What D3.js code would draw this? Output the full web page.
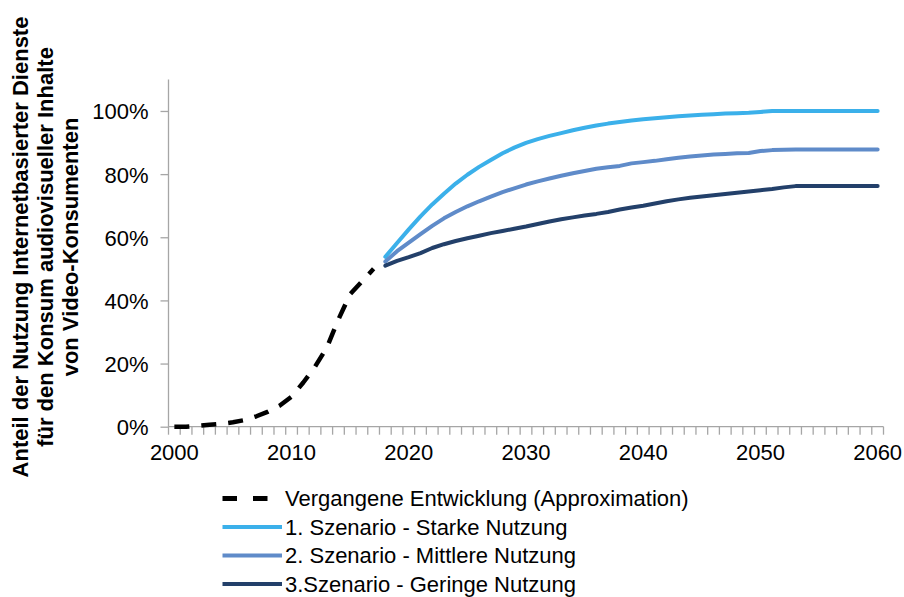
<!DOCTYPE html>
<html>
<head>
<meta charset="utf-8">
<script src="https://cdn.jsdelivr.net/npm/d3@7"></script>
<style>
  html, body { margin: 0; padding: 0; background: #ffffff; }
  svg { display: block; font-family: "Liberation Sans", Arial, sans-serif; }
</style>
</head>
<body>
<svg id="chart" width="904" height="597"></svg>
<script>
// ---- data ----
const years = d3.range(2000, 2061);            // category axis 2000..2060
const xTickLabels = [2000, 2010, 2020, 2030, 2040, 2050, 2060];
const yTickValues = [0, 0.2, 0.4, 0.6, 0.8, 1.0];

const pastYears = d3.range(2000, 2018);
const pastValues = [0.000, 0.000, 0.003, 0.006, 0.009, 0.014, 0.021, 0.033, 0.048,
                    0.067, 0.095, 0.140, 0.190, 0.250, 0.340, 0.420, 0.460, 0.500];

const scenYears = d3.range(2018, 2061);
const strongValues = [0.538, 0.582, 0.625, 0.666, 0.704, 0.738, 0.770, 0.798, 0.823, 0.845,
                      0.866, 0.884, 0.899, 0.911, 0.921, 0.930, 0.939, 0.947, 0.954, 0.960,
                      0.965, 0.970, 0.974, 0.977, 0.980, 0.983, 0.986, 0.988, 0.990, 0.992,
                      0.993, 0.994, 0.997, 1.000, 1.000, 1.000, 1.000, 1.000, 1.000, 1.000,
                      1.000, 1.000, 1.000];
const mediumValues = [0.523, 0.556, 0.583, 0.610, 0.636, 0.660, 0.680, 0.698, 0.714, 0.729,
                      0.743, 0.755, 0.767, 0.777, 0.786, 0.795, 0.803, 0.810, 0.817, 0.822,
                      0.826, 0.834, 0.838, 0.842, 0.847, 0.852, 0.856, 0.859, 0.862, 0.864,
                      0.866, 0.867, 0.873, 0.876, 0.877, 0.878, 0.878, 0.878, 0.878, 0.878,
                      0.878, 0.878, 0.878];
const lowValues = [0.510, 0.525, 0.537, 0.550, 0.566, 0.578, 0.588, 0.597, 0.605, 0.613,
                   0.620, 0.627, 0.634, 0.642, 0.650, 0.657, 0.663, 0.669, 0.674, 0.680,
                   0.688, 0.694, 0.700, 0.707, 0.714, 0.720, 0.725, 0.729, 0.733, 0.737,
                   0.741, 0.745, 0.749, 0.753, 0.758, 0.762, 0.762, 0.762, 0.762, 0.762,
                   0.762, 0.762, 0.762];

const seriesNames = ["Vergangene Entwicklung (Approximation)",
                     "1. Szenario - Starke Nutzung",
                     "2. Szenario - Mittlere Nutzung",
                     "3.Szenario - Geringe Nutzung"];
const seriesColors = ["#000000", "#3BB0EA", "#5F8BC9", "#23406A"];
const titleLines = ["Anteil der Nutzung Internetbasierter Dienste",
                    "für den Konsum audiovisueller Inhalte",
                    "von Video-Konsumenten"];

// ---- layout ----
const svg = d3.select("#chart");
const plot = { left: 168.5, right: 883.5, top: 79.4, bottom: 426.7 };

const x = d3.scaleBand().domain(years).range([plot.left, plot.right]).paddingInner(0).paddingOuter(0);
const xc = yr => x(yr) + x.bandwidth() / 2;
const y = d3.scaleLinear().domain([0, 1.1]).range([plot.bottom, plot.top]);

const axisColor = "#A6A6A6";
const fontSize = 22;

// y axis
const yAxis = d3.axisLeft(y).tickValues(yTickValues).tickFormat(d3.format(".0%")).tickSize(8).tickPadding(12);
const gy = svg.append("g").attr("transform", `translate(${plot.left},0)`).call(yAxis);
gy.select(".domain").remove();
gy.append("line").attr("x1", 0).attr("x2", 0).attr("y1", plot.top).attr("y2", plot.bottom)
  .attr("stroke", axisColor).attr("stroke-width", 1.3);
gy.selectAll(".tick line").attr("stroke", axisColor).attr("stroke-width", 1.3);
gy.selectAll(".tick text").attr("fill", "#000").attr("font-size", fontSize)
  .attr("font-family", "Liberation Sans, Arial, sans-serif").attr("dy", "0.36em");

// x axis: category ticks between bands
const gx = svg.append("g").attr("transform", `translate(0,${plot.bottom})`);
gx.append("line").attr("x1", plot.left).attr("x2", plot.right).attr("y1", 0).attr("y2", 0)
  .attr("stroke", axisColor).attr("stroke-width", 1.3);
const boundaries = years.map(yr => x(yr)).concat([plot.right]);
gx.selectAll("line.tk").data(boundaries).join("line").attr("class", "tk")
  .attr("x1", d => d).attr("x2", d => d).attr("y1", 0).attr("y2", 8)
  .attr("stroke", axisColor).attr("stroke-width", 1.3);
gx.selectAll("text").data(xTickLabels).join("text")
  .attr("x", d => xc(d)).attr("y", 33).attr("text-anchor", "middle")
  .attr("font-size", fontSize).attr("fill", "#000").text(d => d);

// lines
const line = d3.line().x(d => xc(d[0])).y(d => y(d[1])).curve(d3.curveLinear);
const pastData = pastYears.map((yr, i) => [yr, pastValues[i]]);
const scen = [strongValues, mediumValues, lowValues].map(vals => scenYears.map((yr, i) => [yr, vals[i]]));

svg.append("path").datum(pastData).attr("d", line).attr("fill", "none")
  .attr("stroke", seriesColors[0]).attr("stroke-width", 4.5)
  .attr("stroke-dasharray", "15,12").attr("stroke-linejoin", "round");

scen.forEach((data, i) => {
  svg.append("path").datum(data).attr("d", line).attr("fill", "none")
    .attr("stroke", seriesColors[i + 1]).attr("stroke-width", 4)
    .attr("stroke-linejoin", "round").attr("stroke-linecap", "round");
});

// y title
const titleG = svg.append("g").attr("font-weight", "bold").attr("font-size", fontSize).attr("fill", "#000");
const titleX = [28, 53, 78];
titleLines.forEach((t, i) => {
  titleG.append("text").attr("transform", `translate(${titleX[i]},247) rotate(-90)`)
    .attr("text-anchor", "middle").text(t);
});

// legend
const legend = svg.append("g");
const rowY = [498.5, 527, 555.5, 584];
seriesNames.forEach((name, i) => {
  const g = legend.append("g").attr("transform", `translate(0,${rowY[i]})`);
  const l = g.append("line").attr("x1", 222.5).attr("x2", 282).attr("y1", 0).attr("y2", 0)
    .attr("stroke", seriesColors[i]).attr("stroke-width", i === 0 ? 5 : 4);
  if (i === 0) l.attr("stroke-dasharray", "14.5,16");
  g.append("text").attr("x", 285).attr("y", 0).attr("dy", "0.36em")
    .attr("font-size", fontSize).attr("fill", "#000").text(name);
});
</script>
</body>
</html>
